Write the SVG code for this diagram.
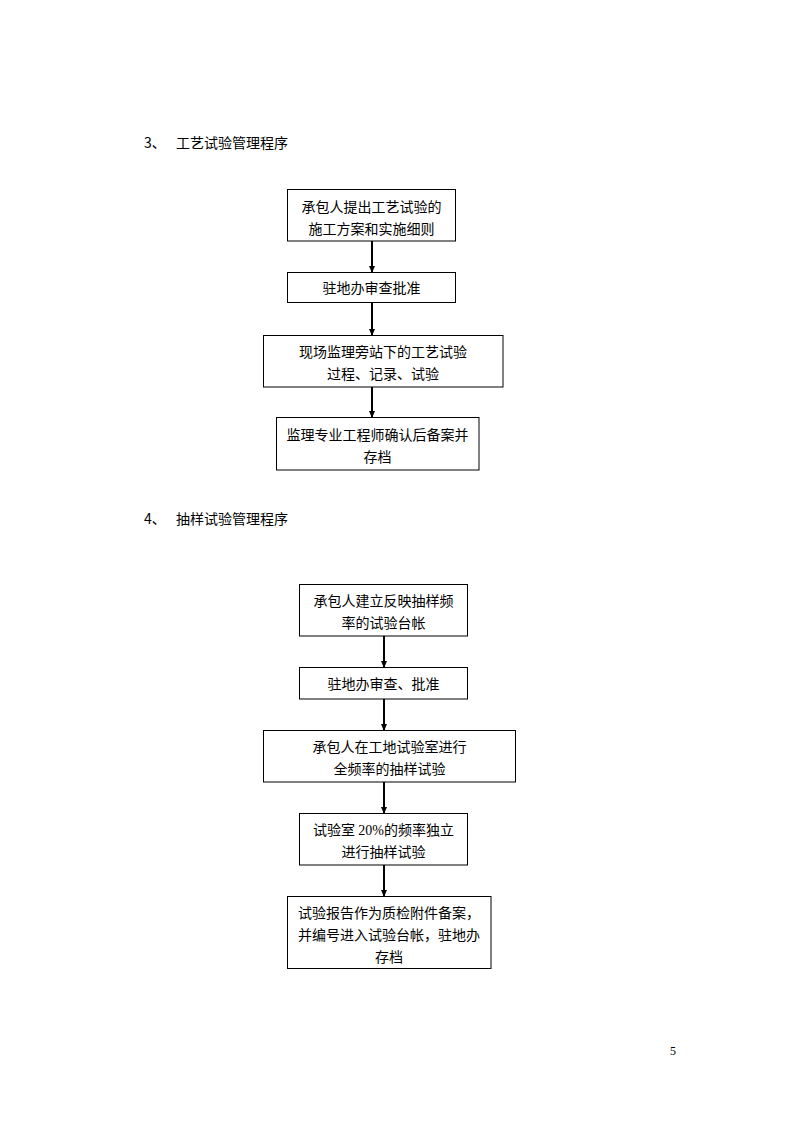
<svg xmlns="http://www.w3.org/2000/svg" width="794" height="1123" viewBox="0 0 794 1123">
<defs>
<style>
.box{fill:#fff;stroke:#000;stroke-width:1}
.t{font-family:"Noto Sans CJK SC","Liberation Sans",sans-serif;font-size:14px;fill:#000;text-anchor:middle}
.h{font-family:"Noto Sans CJK SC","Liberation Sans",sans-serif;font-size:14px;fill:#000}
.c{stroke:#000;stroke-width:2;fill:none;marker-end:url(#ah)}
</style>
<marker id="ah" markerWidth="4" markerHeight="4" refX="3" refY="2" orient="auto" markerUnits="strokeWidth">
<path d="M0,0.5 L3.5,2 L0,3.5 Z" fill="#000"/>
</marker>
</defs>
<rect width="794" height="1123" fill="#fff"/>
<text class="h" x="144" y="148">3、</text>
<text class="h" x="176" y="148">工艺试验管理程序</text>
<text class="h" x="144" y="524">4、</text>
<text class="h" x="176" y="524">抽样试验管理程序</text>
<g id="connectors">
<line class="c" x1="372" y1="241" x2="372" y2="272"/>
<line class="c" x1="372" y1="303" x2="372" y2="335"/>
<line class="c" x1="372" y1="387" x2="372" y2="417"/>
<line class="c" x1="384" y1="636" x2="384" y2="667"/>
<line class="c" x1="384" y1="699" x2="384" y2="730"/>
<line class="c" x1="384" y1="782" x2="384" y2="813"/>
<line class="c" x1="384" y1="865" x2="384" y2="896"/>
</g>
<g id="n1"><rect class="box" x="287.5" y="189.5" width="168" height="51.5"/>
<text class="t" x="371.5" y="212">承包人提出工艺试验的</text><text class="t" x="371.5" y="234">施工方案和实施细则</text></g>
<g id="n2"><rect class="box" x="287.5" y="272.5" width="168" height="30"/>
<text class="t" x="371.5" y="293">驻地办审查批准</text></g>
<g id="n3"><rect class="box" x="263.5" y="335.5" width="239.5" height="51.5"/>
<text class="t" x="383" y="357">现场监理旁站下的工艺试验</text><text class="t" x="383" y="379">过程、记录、试验</text></g>
<g id="n4"><rect class="box" x="276.5" y="417.5" width="202.5" height="52.5"/>
<text class="t" x="377.5" y="440">监理专业工程师确认后备案并</text><text class="t" x="377.5" y="462">存档</text></g>
<g id="n5"><rect class="box" x="299.5" y="584.5" width="168" height="51.5"/>
<text class="t" x="383.5" y="606">承包人建立反映抽样频</text><text class="t" x="383.5" y="628">率的试验台帐</text></g>
<g id="n6"><rect class="box" x="299.5" y="667.5" width="168" height="31.5"/>
<text class="t" x="383.5" y="689">驻地办审查、批准</text></g>
<g id="n7"><rect class="box" x="263.5" y="730.5" width="252" height="51.5"/>
<text class="t" x="389.5" y="752">承包人在工地试验室进行</text><text class="t" x="389.5" y="774">全频率的抽样试验</text></g>
<g id="n8"><rect class="box" x="299.5" y="813.5" width="168" height="51.5"/>
<text class="t" x="383.5" y="835">试验室 <tspan font-family="Liberation Serif">20%</tspan>的频率独立</text><text class="t" x="383.5" y="857">进行抽样试验</text></g>
<g id="n9"><rect class="box" x="287.5" y="896.5" width="203.5" height="72"/>
<text class="t" x="389" y="918">试验报告作为质检附件备案，</text><text class="t" x="389" y="940">并编号进入试验台帐，驻地办</text><text class="t" x="389" y="962">存档</text></g>
<text x="670" y="1055" font-family="Liberation Serif" font-size="12" fill="#000">5</text>
</svg>
